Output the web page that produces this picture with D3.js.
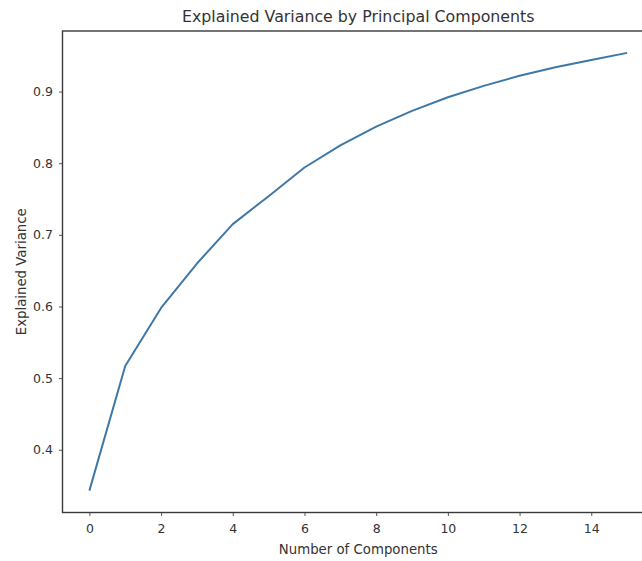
<!DOCTYPE html>
<html>
<head>
<meta charset="utf-8">
<script src="https://cdn.jsdelivr.net/npm/d3@7"></script>
<style>
  body { margin: 0; background: #fff; }
  svg { display: block; font-family: "DejaVu Sans", sans-serif; }
</style>
</head>
<body>
<svg id="chart" width="642" height="561"></svg>
<script>
// cumulative explained variance
var components = [0, 1, 2, 3, 4, 5, 6, 7, 8, 9, 10, 11, 12, 13, 14, 15];
var explained = [0.343, 0.517, 0.598, 0.660, 0.715, 0.754, 0.794, 0.825, 0.851, 0.873, 0.892, 0.908, 0.922, 0.934, 0.944, 0.954];
var xTicks = [0, 2, 4, 6, 8, 10, 12, 14];
var yTicks = [0.4, 0.5, 0.6, 0.7, 0.8, 0.9];

var svg = d3.select("#chart");
var plotLeft = 62.5, plotTop = 31, plotRight = 654, plotBottom = 512.5;

// matplotlib style 5% margins on both axes
var xPad = (d3.max(components) - d3.min(components)) * 0.05;
var yPad = (d3.max(explained) - d3.min(explained)) * 0.05;

var x = d3.scaleLinear()
  .domain([d3.min(components) - xPad, d3.max(components) + xPad])
  .range([plotLeft, plotRight]);
var y = d3.scaleLinear()
  .domain([d3.min(explained) - yPad, d3.max(explained) + yPad])
  .range([plotBottom, plotTop]);

var textColor = "#333";

var xAxis = svg.append("g")
  .attr("transform", "translate(0," + plotBottom + ")")
  .call(d3.axisBottom(x).tickValues(xTicks).tickSize(3.5).tickPadding(8).tickFormat(d3.format("d")));
var yAxis = svg.append("g")
  .attr("transform", "translate(" + plotLeft + ",0)")
  .call(d3.axisLeft(y).tickValues(yTicks).tickSize(3.5).tickPadding(6).tickFormat(d3.format(".1f")));

[xAxis, yAxis].forEach(function (g) {
  g.select(".domain").remove();
  g.selectAll(".tick line").attr("stroke", "#555").attr("stroke-width", 1);
  g.selectAll(".tick text")
    .attr("fill", textColor)
    .style("font-size", "12.5px")
    .style("font-family", "DejaVu Sans, sans-serif");
});

// frame
svg.append("rect")
  .attr("x", plotLeft)
  .attr("y", plotTop)
  .attr("width", plotRight - plotLeft)
  .attr("height", plotBottom - plotTop)
  .attr("fill", "none")
  .attr("stroke", "#3a3a3a")
  .attr("stroke-width", 1.4);

var line = d3.line()
  .x(function (d, i) { return x(components[i]); })
  .y(function (d) { return y(d); });

svg.append("path")
  .datum(explained)
  .attr("d", line)
  .attr("fill", "none")
  .attr("stroke", "#3f78a6")
  .attr("stroke-width", 2)
  .attr("stroke-linejoin", "round");

svg.append("text")
  .attr("x", (plotLeft + plotRight) / 2)
  .attr("y", 22)
  .attr("text-anchor", "middle")
  .attr("fill", textColor)
  .style("font-size", "15.8px")
  .text("Explained Variance by Principal Components");

svg.append("text")
  .attr("x", (plotLeft + plotRight) / 2)
  .attr("y", 554)
  .attr("text-anchor", "middle")
  .attr("fill", textColor)
  .style("font-size", "13.3px")
  .text("Number of Components");

svg.append("text")
  .attr("transform", "translate(26," + (plotTop + plotBottom) / 2 + ") rotate(-90)")
  .attr("text-anchor", "middle")
  .attr("fill", textColor)
  .style("font-size", "13.3px")
  .text("Explained Variance");
</script>
</body>
</html>
